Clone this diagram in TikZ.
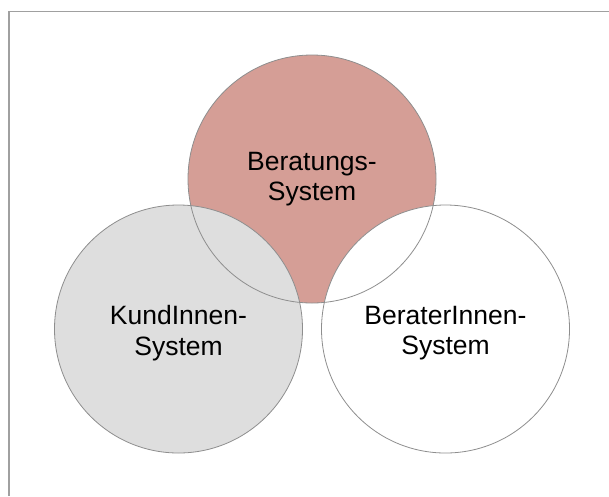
\documentclass[tikz,border=0pt]{standalone}
\usepackage{fontspec}
\setmainfont{Liberation Sans}
\usetikzlibrary{positioning}
\definecolor{rosefill}{HTML}{D59E96}
\definecolor{greyfill}{HTML}{DEDEDE}
\definecolor{rimgrey}{HTML}{8E8E8E}
\definecolor{framegrey}{HTML}{A0A0A0}
\tikzset{
  sys/.style={circle, minimum size=248pt, inner sep=0pt},
  rim/.style={draw=rimgrey, line width=0.8pt},
  syslabel/.style={align=center, font=\fontsize{26.5}{30.5}\selectfont}
}
\begin{document}
\begin{tikzpicture}[x=1pt, y=-1pt]
    \useasboundingbox (0,0) rectangle (609,496);
    \draw[framegrey, line width=1.2pt] (9,496) -- (9,11.7) -- (609,11.7);

    % the three systems
    \node[sys, fill=rosefill] (beratung) at (312,179) {};
    \node[sys, fill=greyfill] (kunde) at (178.5,329) {};
    \node[sys, fill=white] (berater) at (445.5,329) {};

    \foreach \s in {beratung,kunde,berater}
      \draw[rim] (\s.center) circle (124pt);

    \node[syslabel] at (beratung.center) {Beratungs-\\System};
    \node[syslabel, yshift=-4pt] at (kunde.center) {KundInnen-\\System};
    \node[syslabel, yshift=-4pt] at (berater.center) {BeraterInnen-\\System};
  \end{tikzpicture}
\end{document}
